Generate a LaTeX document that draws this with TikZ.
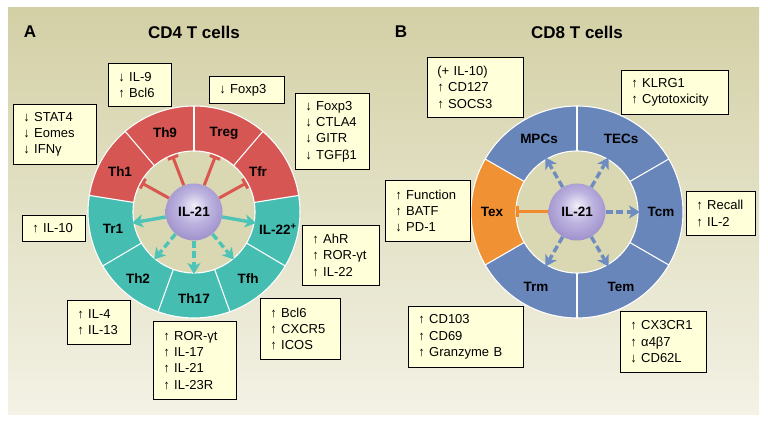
\documentclass[tikz,border=0pt]{standalone}
\usepackage{fontspec}
\setmainfont{Liberation Sans}
\usetikzlibrary{arrows.meta,calc}
\definecolor{bgtop}{HTML}{D3D0A6}
\definecolor{bgmid}{HTML}{DAD8B4}
\definecolor{bgbot}{HTML}{F3F2E5}
\definecolor{segred}{HTML}{D65654}
\definecolor{segteal}{HTML}{46BDB1}
\definecolor{segblue}{HTML}{6886BA}
\definecolor{segorange}{HTML}{F09234}
\definecolor{innerdisc}{HTML}{DAD8B3}
\definecolor{boxfill}{HTML}{FFFFDA}
\definecolor{sphin}{HTML}{F1EEF9}
\definecolor{sphmid}{HTML}{BDB3DF}
\definecolor{sphout}{HTML}{9A8CC9}
\definecolor{arrteal}{HTML}{4EC3B7}
\definecolor{arrblue}{HTML}{6E8CC0}
\definecolor{arrred}{HTML}{D9574F}
\definecolor{arrorange}{HTML}{F08A2C}
\pgfdeclareradialshading{sphshade}{\pgfpoint{0bp}{6bp}}{color(0bp)=(sphin); color(14bp)=(sphmid); color(30bp)=(sphout); color(50bp)=(sphout)}
\newcommand{\ringseg}[4]{%
  \fill[#4] ($(#1)+(#2:61pt)$) arc[start angle=#2,end angle=#3,radius=61pt]
    -- ($(#1)+(#3:106pt)$) arc[start angle=#3,end angle=#2,radius=106pt] -- cycle;}
\tikzset{
  sepline/.style={draw=white, line width=1.1pt},
  sphere/.style={circle, minimum size=57pt, inner sep=0pt, shading=sphshade,
    font=\bfseries\fontsize{13.5}{13.5}\selectfont},
  seglabel/.style={font=\bfseries\fontsize{13.5}{13.5}\selectfont, inner sep=0pt},
  paneltitle/.style={font=\bfseries\fontsize{17}{17}\selectfont, inner sep=0pt},
  tbox/.style={draw=black, line width=0.8pt, fill=boxfill, inner xsep=10pt, inner ysep=0pt,
    anchor=north west, align=left, font=\fontsize{13}{16.3}\selectfont},
  redbar/.style={draw=arrred, line width=3pt, -{Bar[width=11pt]}},
  orangebar/.style={draw=arrorange, line width=3pt, -{Bar[width=11pt]}},
  tealarr/.style={draw=arrteal, line width=3.4pt, -{Stealth[length=11pt,width=13pt,inset=3pt]}},
  tealdash/.style={tealarr, dash pattern=on 7pt off 3.5pt},
  bluedash/.style={draw=arrblue, line width=3.4pt, dash pattern=on 7pt off 3.5pt,
    -{Stealth[length=11pt,width=13pt,inset=3pt]}},
}
\begin{document}
\begin{tikzpicture}[x=1pt,y=1pt]
\useasboundingbox (0,0) rectangle (768,425);
\shade[top color=bgtop, middle color=bgmid, bottom color=bgbot] (8,10) rectangle (759,417);

% ---------- Panel A ----------
\coordinate (CL) at (194,213);
\fill[innerdisc] (CL) circle[radius=61pt];
\ringseg{CL}{9}{171}{segred}
\ringseg{CL}{171}{369}{segteal}
\draw[sepline] (CL) circle[radius=61pt];
\draw[sepline] (CL) circle[radius=106pt];
\foreach \a in {9,49.5,90,130.5,171,210.6,250.2,289.8,329.4}
  \draw[sepline] ($(CL)+(\a:61pt)$) -- ($(CL)+(\a:106pt)$);

\node[sphere] (SL) at (CL) {IL-21};

\node[seglabel] (Th1) at (120,253) {Th1};
\node[seglabel] (Th9) at (165,292) {Th9};
\node[seglabel] (Treg) at (224,292) {Treg};
\node[seglabel] (Tfr) at (258,253) {Tfr};
\node[seglabel] (Tr1) at (113,196) {Tr1};
\node[seglabel] (IL22) at (278,196) {IL-22\textsuperscript{+}};
\node[seglabel] (Th2) at (138,146) {Th2};
\node[seglabel] (Th17) at (194,126) {Th17};
\node[seglabel] (Tfh) at (248,146) {Tfh};

\coordinate (eTh1) at ($(CL)+(151:60pt)$);
\coordinate (eTh9) at ($(CL)+(111:60pt)$);
\coordinate (eTreg) at ($(CL)+(69:60pt)$);
\coordinate (eTfr) at ($(CL)+(29:60pt)$);
\coordinate (eTr1) at ($(CL)+(190:63pt)$);
\coordinate (eIL22) at ($(CL)+(-10:63pt)$);
\coordinate (eTh2) at ($(CL)+(230:62pt)$);
\coordinate (eTh17) at ($(CL)+(270:62pt)$);
\coordinate (eTfh) at ($(CL)+(310:62pt)$);

\draw[redbar] (SL.151) -- (eTh1);
\draw[redbar] (SL.111) -- (eTh9);
\draw[redbar] (SL.69) -- (eTreg);
\draw[redbar] (SL.29) -- (eTfr);
\draw[tealarr] (SL.190) -- (eTr1);
\draw[tealarr] (SL.-10) -- (eIL22);
\draw[tealdash] (SL.230) -- (eTh2);
\draw[tealdash] (SL.270) -- (eTh17);
\draw[tealdash] (SL.310) -- (eTfh);

\node[paneltitle] (tA) at (30,393) {A};
\node[paneltitle] (tCD4) at (194,393) {CD4 T cells};

\node[tbox, minimum width=83pt, minimum height=60pt, text width=63pt] (bTh1) at (13,321) {↓~STAT4\\↓~Eomes\\↓~IFNγ};
\node[tbox, minimum width=63pt, minimum height=43pt, text width=43pt] (bTh9) at (108,362) {↓~IL-9\\↑~Bcl6};
\node[tbox, minimum width=75pt, minimum height=27pt, text width=55pt] (bTreg) at (209,349) {↓~Foxp3};
\node[tbox, minimum width=74pt, minimum height=76pt, text width=54pt] (bTfr) at (295,332) {↓~Foxp3\\↓~CTLA4\\↓~GITR\\↓~TGFβ1};
\node[tbox, minimum width=63pt, minimum height=26pt, text width=43pt] (bTr1) at (22,210) {↑~IL-10};
\node[tbox, minimum width=77pt, minimum height=60pt, text width=57pt] (bIL22) at (302,200) {↑~AhR\\↑~ROR-γt\\↑~IL-22};
\node[tbox, minimum width=63pt, minimum height=44pt, text width=43pt] (bTh2) at (67,125) {↑~IL-4\\↑~IL-13};
\node[tbox, minimum width=83pt, minimum height=78pt, text width=63pt] (bTh17) at (153,104) {↑~ROR-γt\\↑~IL-17\\↑~IL-21\\↑~IL-23R};
\node[tbox, minimum width=80pt, minimum height=61pt, text width=60pt] (bTfh) at (260,127) {↑~Bcl6\\↑~CXCR5\\↑~ICOS};

% ---------- Panel B ----------
\coordinate (CR) at (577,213);
\fill[innerdisc] (CR) circle[radius=61pt];
\ringseg{CR}{-150}{150}{segblue}
\ringseg{CR}{150}{210}{segorange}
\draw[sepline] (CR) circle[radius=61pt];
\draw[sepline] (CR) circle[radius=106pt];
\foreach \a in {30,90,150,210,270,330}
  \draw[sepline] ($(CR)+(\a:61pt)$) -- ($(CR)+(\a:106pt)$);

\node[sphere] (SR) at (CR) {IL-21};

\node[seglabel] (MPCs) at (539,286) {MPCs};
\node[seglabel] (TECs) at (621,286) {TECs};
\node[seglabel] (Tcm) at (661,213) {Tcm};
\node[seglabel] (Tem) at (621,138) {Tem};
\node[seglabel] (Trm) at (536,138) {Trm};
\node[seglabel] (Tex) at (492,213) {Tex};

\coordinate (eMPC) at ($(CR)+(120:63pt)$);
\coordinate (eTEC) at ($(CR)+(60:63pt)$);
\coordinate (eTcm) at ($(CR)+(0:63pt)$);
\coordinate (eTem) at ($(CR)+(-60:63pt)$);
\coordinate (eTrm) at ($(CR)+(-120:63pt)$);
\coordinate (eTex) at ($(CR)+(180:61pt)$);

\draw[bluedash] (SR.120) -- (eMPC);
\draw[bluedash] (SR.60) -- (eTEC);
\draw[bluedash] (SR.0) -- (eTcm);
\draw[bluedash] (SR.-60) -- (eTem);
\draw[bluedash] (SR.-120) -- (eTrm);
\draw[orangebar] (SR.180) -- (eTex);

\node[paneltitle] (tB) at (401,393) {B};
\node[paneltitle] (tCD8) at (577,393) {CD8 T cells};

\node[tbox, minimum width=96pt, minimum height=60pt, text width=76pt] (bMPC) at (427,368) {(+~IL-10)\\↑~CD127\\↑~SOCS3};
\node[tbox, minimum width=107pt, minimum height=44pt, text width=87pt] (bTEC) at (621,355) {↑~KLRG1\\↑~Cytotoxicity};
\node[tbox, minimum width=85pt, minimum height=61pt, text width=65pt] (bTex) at (385,245) {↑~Function\\↑~BATF\\↓~PD-1};
\node[tbox, minimum width=69pt, minimum height=44pt, text width=49pt] (bTcm) at (686,234) {↑~Recall\\↑~IL-2};
\node[tbox, minimum width=115pt, minimum height=61pt, text width=95pt] (bTrm) at (408,119) {↑~CD103\\↑~CD69\\↑~Granzyme~B};
\node[tbox, minimum width=86pt, minimum height=61pt, text width=66pt] (bTem) at (620,114) {↑~CX3CR1\\↑~α4β7\\↓~CD62L};
\end{tikzpicture}
\end{document}
